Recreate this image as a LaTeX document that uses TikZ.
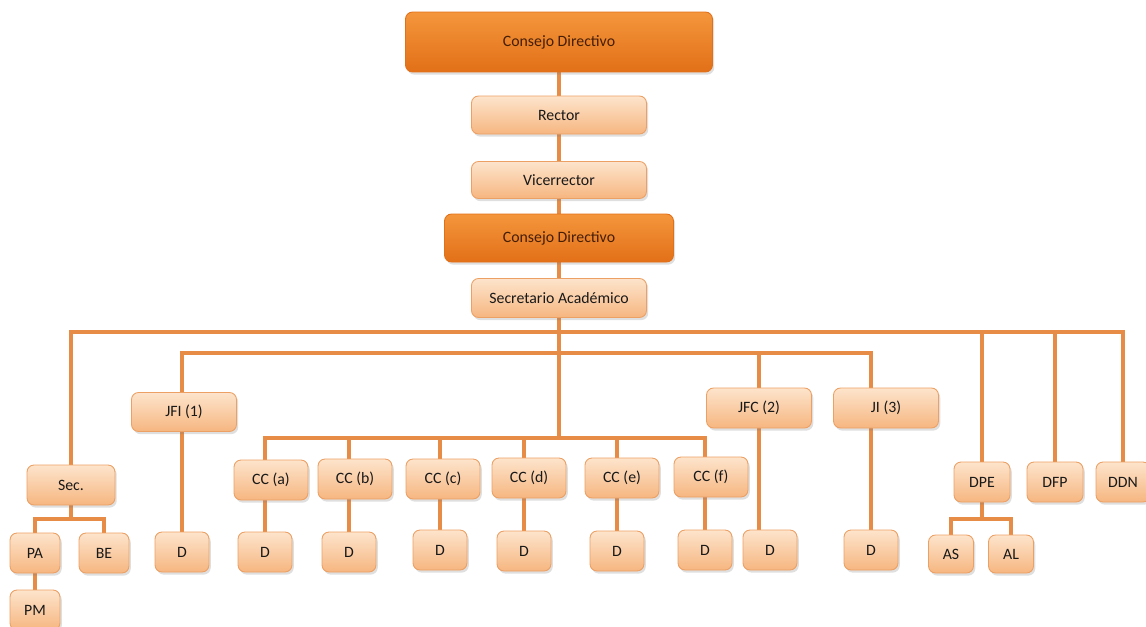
\documentclass[tikz,border=0pt]{standalone}
\usepackage{fontspec}
\setmainfont{Carlito}
\usepackage{tikz}
\usetikzlibrary{backgrounds, shadows}
\definecolor{linea}{RGB}{230,140,70}
\definecolor{clarosup}{RGB}{253,228,204}
\definecolor{claroinf}{RGB}{246,182,128}
\definecolor{bordeclaro}{RGB}{236,160,100}
\definecolor{oscurosup}{RGB}{244,150,60}
\definecolor{oscuroinf}{RGB}{226,112,24}
\definecolor{textoosc}{RGB}{70,30,5}

\begin{document}
\begin{tikzpicture}[x=0.02cm, y=-0.02cm,
    font=\fontsize{9}{10.5}\selectfont,
    caja/.style={draw=bordeclaro, line width=0.5pt, rounded corners=4pt, align=center,
        top color=clarosup, bottom color=claroinf, text=black!90,
        drop shadow={opacity=0.25, shadow xshift=1pt, shadow yshift=-1.5pt},
        minimum height=0.8cm, inner sep=0pt},
    jefe/.style={caja, draw=oscuroinf, top color=oscurosup, bottom color=oscuroinf, text=textoosc},
    conn/.style={draw=linea, line width=2.2pt}]
    \useasboundingbox (0,0) rectangle (1146,626);
    % cupula
    \node[jefe, minimum width=6.14cm, minimum height=1.2cm] (0) at (559,42) {Consejo Directivo};
    \node[caja, minimum width=3.5cm, minimum height=0.76cm] (1) at (559,115) {Rector};
    \node[caja, minimum width=3.5cm, minimum height=0.74cm] (2) at (559,180) {Vicerrector};
    \node[jefe, minimum width=4.58cm, minimum height=0.96cm] (3) at (559,238) {Consejo Directivo};
    \node[caja, minimum width=3.5cm, minimum height=0.78cm] (4) at (559,298) {Secretario Académico};
    % jefaturas
    \node[caja, minimum width=1.76cm] (5) at (71,485) {Sec.};
    \node[caja, minimum width=2.1cm, minimum height=0.78cm] (6) at (184,412) {JFI (1)};
    \node[caja, minimum width=2.1cm] (7) at (759,408) {JFC (2)};
    \node[caja, minimum width=2.1cm] (8) at (886,408) {JI (3)};
    \node[caja, minimum width=1.48cm] (9) at (271,480) {CC (a)};
    \node[caja, minimum width=1.48cm] (10) at (355,479) {CC (b)};
    \node[caja, minimum width=1.48cm] (11) at (443,479) {CC (c)};
    \node[caja, minimum width=1.48cm] (12) at (529,478) {CC (d)};
    \node[caja, minimum width=1.48cm] (13) at (622,478) {CC (e)};
    \node[caja, minimum width=1.48cm] (14) at (711,477) {CC (f)};
    \node[caja, minimum width=1.12cm] (15) at (982,482) {DPE};
    \node[caja, minimum width=1.12cm] (16) at (1055,482) {DFP};
    \node[caja, minimum width=1.08cm] (17) at (1123,482) {DDN};
    % fila inferior
    \node[caja, minimum width=1.0cm] (18) at (35,553) {PA};
    \node[caja, minimum width=1.0cm] (19) at (104,553) {BE};
    \node[caja, minimum width=1.0cm] (20) at (35,610) {PM};
    \node[caja, minimum width=1.08cm] (21) at (182,552) {D};
    \node[caja, minimum width=1.08cm] (22) at (265,552) {D};
    \node[caja, minimum width=1.08cm] (23) at (349,552) {D};
    \node[caja, minimum width=1.08cm] (24) at (440,550) {D};
    \node[caja, minimum width=1.08cm] (25) at (524,551) {D};
    \node[caja, minimum width=1.08cm] (26) at (617,551) {D};
    \node[caja, minimum width=1.08cm] (27) at (705,550) {D};
    \node[caja, minimum width=1.08cm] (28) at (770,550) {D};
    \node[caja, minimum width=1.08cm] (29) at (871,550) {D};
    \node[caja, minimum width=0.9cm, minimum height=0.76cm] (30) at (951,554) {AS};
    \node[caja, minimum width=0.9cm, minimum height=0.76cm] (31) at (1011,554) {AL};

    \coordinate (b1) at (0,332);
    \coordinate (b2) at (0,353);
    \coordinate (b3) at (0,438);
    \coordinate (b4) at (0,519);
    \begin{pgfonlayer}{background}
        \draw[conn] (0.south) -- (1.north) (1.south) -- (2.north)
                    (2.south) -- (3.north) (3.south) -- (4.north)
                    (4.south) -- (4.south |- b3);
        % ramas principales
        \draw[conn] (5.north) |- (17.north |- b1) -- (17.north);
        \foreach \n in {15, 16}
            \draw[conn] (\n.north) -- (\n.north |- b1);
        \draw[conn] (21.north) |- (29.north |- b2) -- (29.north);
        \draw[conn] (7.north) -- (7.north |- b2) (7.south) -- (7.south |- 28.north);
        \draw[conn] (22.north) |- (27.north |- b3) -- (27.north);
        \foreach \n in {23, 24, 25, 26}
            \draw[conn] (\n.north) -- (\n.north |- b3);
        % subramas
        \draw[conn] (18.north) |- (19.north |- b4) -- (19.north);
        \draw[conn] (5.south) -- (5.south |- b4) (18.south) -- (20.north);
        \draw[conn] (30.north) |- (31.north |- b4) -- (31.north);
        \draw[conn] (15.south) -- (15.south |- b4);
    \end{pgfonlayer}
\end{tikzpicture}
\end{document}
